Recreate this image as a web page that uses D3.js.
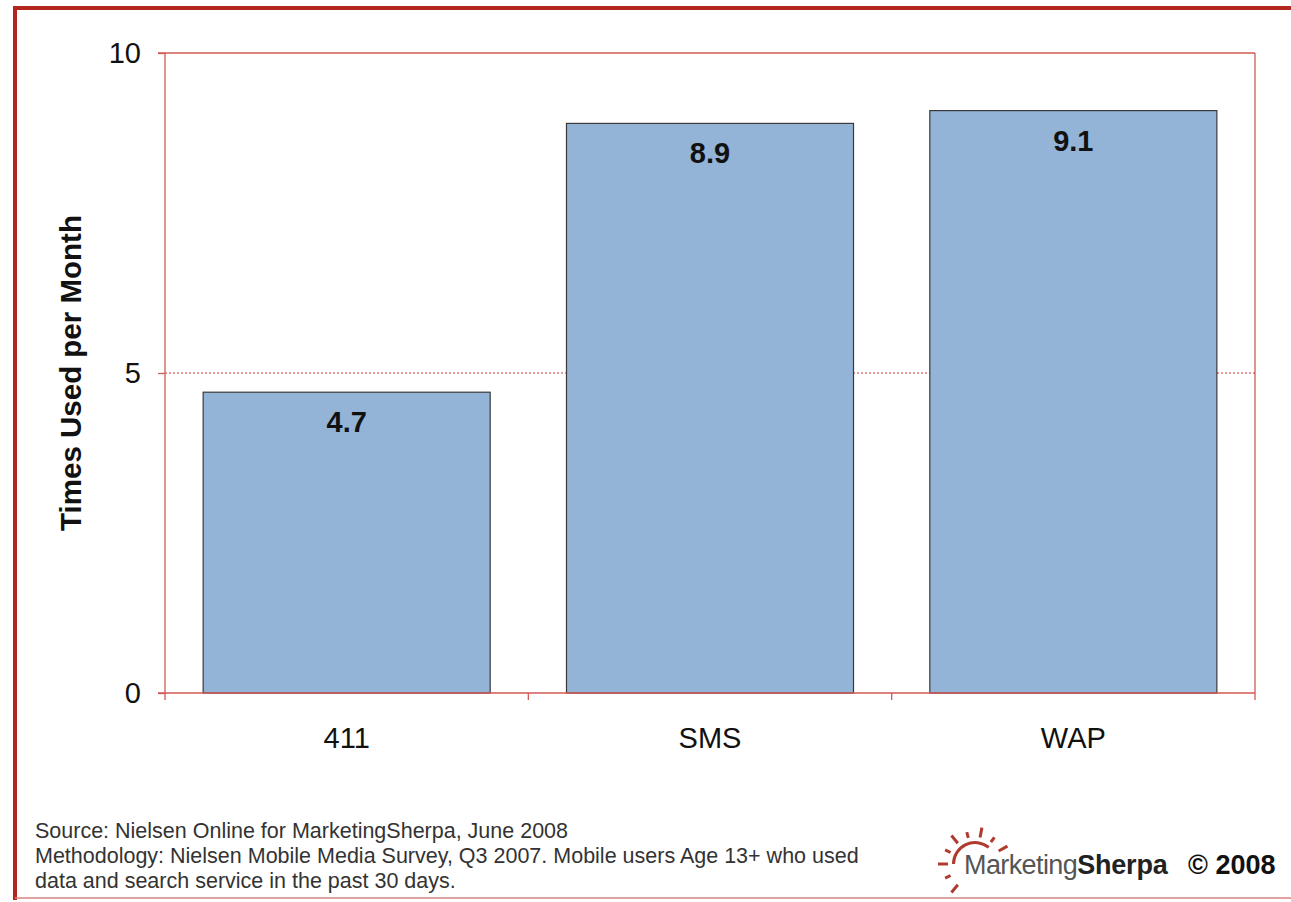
<!DOCTYPE html>
<html><head><meta charset="utf-8">
<script src="https://cdn.jsdelivr.net/npm/d3@7"></script>
<style>body{margin:0;background:#fff;}svg{display:block;font-family:"Liberation Sans",Arial,sans-serif;}</style>
</head><body>
<svg id="c" width="1291" height="902"></svg>
<script>
const categories = ["411", "SMS", "WAP"];
const values = [4.7, 8.9, 9.1];
const yTicks = [0, 5, 10];
const yTitle = "Times Used per Month";
const notes = ["Source: Nielsen Online for MarketingSherpa, June 2008",
  "Methodology: Nielsen Mobile Media Survey, Q3 2007. Mobile users Age 13+ who used",
  "data and search service in the past 30 days."];

const svg = d3.select("#c");
const red = "#d05a55";
// outer frame
svg.append("path").attr("d","M15,900 L15,8 L1291,8").attr("fill","none").attr("stroke","#b3261e").attr("stroke-width",4);
svg.append("line").attr("x1",15).attr("x2",1291).attr("y1",898).attr("y2",898).attr("stroke","#d9827e").attr("stroke-width",1.5);

const L=165,R=1255,T=53,B=693;
const x = d3.scaleBand().domain(categories).range([L,R]).paddingInner(0.21).paddingOuter(0.105);
const y = d3.scaleLinear().domain([0,10]).range([B,T]);

// plot frame top/right
svg.append("line").attr("x1",158).attr("x2",R).attr("y1",T).attr("y2",T).attr("stroke",red).attr("stroke-width",1.3);
svg.append("line").attr("x1",R).attr("x2",R).attr("y1",T).attr("y2",B+7).attr("stroke",red).attr("stroke-width",1.3);
// gridline at 5
svg.append("line").attr("x1",L).attr("x2",R).attr("y1",y(5)).attr("y2",y(5)).attr("stroke","#d03030").attr("stroke-width",1).attr("stroke-dasharray","2,2");

// bars
svg.selectAll("rect.bar").data(values).join("rect")
  .attr("x",(d,i)=>x(categories[i])).attr("width",x.bandwidth())
  .attr("y",d=>y(d)).attr("height",d=>B-y(d))
  .attr("fill","#93b3d7").attr("stroke","#3a3a3a").attr("stroke-width",1.2);
svg.selectAll("text.val").data(values).join("text")
  .attr("x",(d,i)=>x(categories[i])+x.bandwidth()/2).attr("y",d=>y(d)+40)
  .attr("text-anchor","middle").attr("font-size",29).attr("font-weight","bold").attr("fill","#111")
  .text(d=>d.toFixed(1));

// y axis
const ya = svg.append("g").attr("transform",`translate(${L},0)`).call(d3.axisLeft(y).tickValues(yTicks).tickSize(7).tickPadding(17).tickFormat(d3.format("d")));
ya.select(".domain").attr("stroke",red).attr("stroke-width",1.3).attr("d",`M0,${T}V${B+7}`);
ya.selectAll(".tick line").attr("stroke",red).attr("stroke-width",1.3);
ya.selectAll(".tick text").attr("font-size",29).attr("fill","#111").attr("font-family","Liberation Sans, Arial, sans-serif");

// x axis
const xa = svg.append("g").attr("transform",`translate(0,${B})`).call(d3.axisBottom(x).tickSize(0).tickPadding(34));
xa.select(".domain").attr("stroke",red).attr("stroke-width",1.3).attr("d",`M158,0H${R}`);
xa.selectAll(".tick text").attr("font-size",29).attr("fill","#111").attr("font-family","Liberation Sans, Arial, sans-serif");
// category separator ticks
const seps = categories.slice(1).map(c=>x(c)-x.step()*x.paddingInner()/2);
svg.selectAll("line.sep").data(seps).join("line").attr("x1",d=>d).attr("x2",d=>d).attr("y1",B).attr("y2",B+7).attr("stroke",red).attr("stroke-width",1.3);

// y title
svg.append("text").attr("transform",`translate(81,${y(5)}) rotate(-90)`).attr("text-anchor","middle")
  .attr("font-size",29.5).attr("font-weight","bold").attr("fill","#111").text(yTitle);

// notes
svg.selectAll("text.note").data(notes).join("text").attr("x",35).attr("y",(d,i)=>838+i*25)
  .attr("font-size",21.5).attr("fill","#333").text(d=>d);

// logo
const lg = svg.append("g");
const cx=975, cy=864;
const sunR=22;
lg.append("path").attr("d",d3.arc()({innerRadius:sunR-2,outerRadius:sunR+1,startAngle:-Math.PI*0.5,endAngle:Math.PI*0.22}))
  .attr("transform",`translate(${cx},${cy})`).attr("fill","#b03a2e");
const rays=[-0.5,-0.36,-0.22,-0.08,0.06,0.2,0.34,-0.64,-0.78];
rays.forEach((a,i)=>{
  const ang=a*Math.PI; const r1=sunR+5, r2=sunR+(i%2?11:15);
  lg.append("line").attr("x1",cx+r1*Math.sin(ang)).attr("y1",cy-r1*Math.cos(ang))
    .attr("x2",cx+r2*Math.sin(ang)).attr("y2",cy-r2*Math.cos(ang))
    .attr("stroke","#b03a2e").attr("stroke-width",3);
});
lg.append("text").attr("x",964).attr("y",874).attr("font-size",27).attr("fill","#555").attr("font-family","Liberation Sans, Arial").attr("letter-spacing",-0.6)
  .text("Marketing").append("tspan").attr("font-weight","bold").attr("fill","#222").attr("letter-spacing",-0.2).text("Sherpa");
lg.append("text").attr("x",1188).attr("y",874).attr("font-size",27).attr("font-weight","bold").attr("fill","#111").text("© 2008");
</script>
</body></html>
